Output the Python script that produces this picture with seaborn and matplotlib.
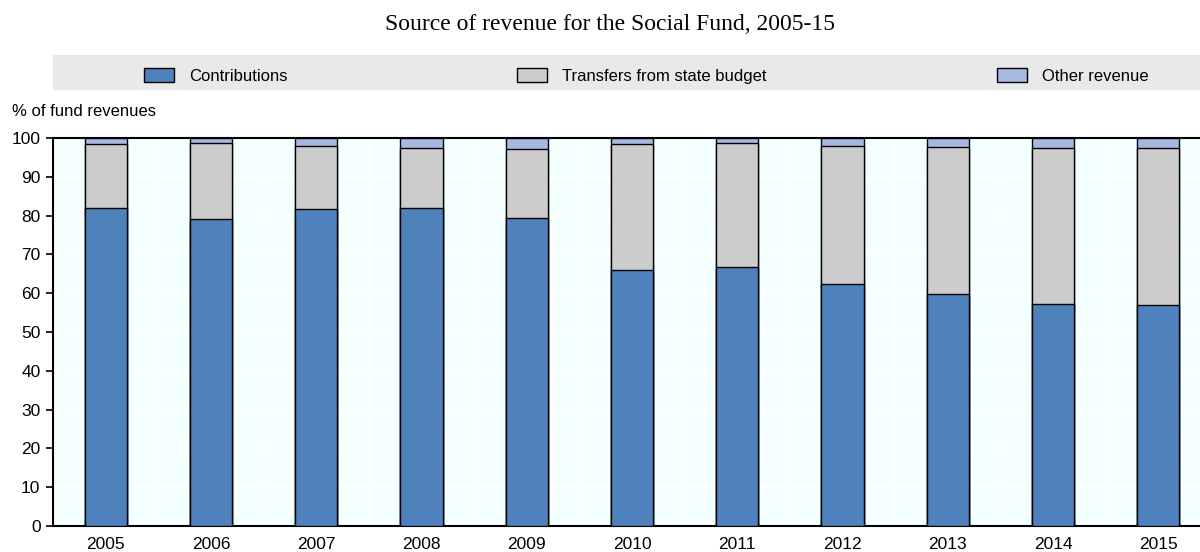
import numpy as np
import pandas as pd
import matplotlib
matplotlib.use("Agg")
import matplotlib.pyplot as plt
from matplotlib.patches import Patch, Rectangle
import seaborn as sns

years = ["2005", "2006", "2007", "2008", "2009", "2010", "2011", "2012", "2013", "2014", "2015"]
contributions = [81.9, 79.2, 81.7, 82.0, 79.4, 65.9, 66.8, 62.5, 59.7, 57.2, 56.9]
transfers = [16.6, 19.5, 16.2, 15.3, 17.7, 32.6, 31.8, 35.4, 38.0, 40.2, 40.5]
other = [round(100 - c - t, 1) for c, t in zip(contributions, transfers)]

series_names = ["Contributions", "Transfers from state budget", "Other revenue"]
colors = ["#4F81BD", "#CCCCCC", "#A7B9E3"]

sns.set_theme(style="white")
plt.rcParams["font.family"] = ["Liberation Sans Narrow", "Liberation Sans", "DejaVu Sans"]
plt.rcParams["text.color"] = "black"
plt.rcParams["xtick.color"] = "black"
plt.rcParams["ytick.color"] = "black"

df = pd.DataFrame({"year": years, "c": contributions, "t": transfers, "o": other})
df["top_t"] = df["c"] + df["t"]
df["top_o"] = df["top_t"] + df["o"]

fig = plt.figure(figsize=(12, 5.52), dpi=100)
ax = fig.add_axes([53 / 1200, 26 / 552, 1158 / 1200, 388 / 552])
ax.set_facecolor("#F4FFFF")

# stacked by overdrawing cumulative totals
for col, color in zip(["top_o", "top_t", "c"], colors[::-1]):
    sns.barplot(data=df, x="year", y=col, color=color, width=0.4,
                edgecolor="black", linewidth=1.0, saturation=1, ax=ax, zorder=3)

ax.set_xlim(-0.5, len(years) - 0.5)
ax.set_ylim(0, 100)
ax.set_yticks(range(0, 101, 10))
ax.set_xlabel("")
ax.set_ylabel("")

ax.set_xticks(np.arange(-0.5, len(years), 1), minor=True)
ax.tick_params(axis="x", which="major", length=0, labelsize=12.5, pad=8)
ax.tick_params(axis="x", which="minor", direction="in", length=5, width=1.2, color="black")
ax.tick_params(axis="y", which="major", direction="out", length=5, width=1.2,
               color="black", labelsize=12.5, left=True, pad=4)

ax.grid(False)
ax.grid(axis="y", which="major", color="white", linewidth=1.5, zorder=1)
ax.grid(axis="x", which="minor", color="white", linewidth=1.5, zorder=1)
ax.set_axisbelow(True)

for side in ["left", "bottom", "top"]:
    ax.spines[side].set_visible(True)
    ax.spines[side].set_color("black")
    ax.spines[side].set_linewidth(1.5)
ax.spines["right"].set_visible(False)

# legend band
fig.patches.append(Rectangle((53 / 1200, 1 - 90 / 552), 1147 / 1200, 35 / 552,
                             transform=fig.transFigure, facecolor="#E9E9E9",
                             edgecolor="none", zorder=0))
handles = [Patch(facecolor=c, edgecolor="black", linewidth=1.0) for c in colors]
fig.legend(handles, series_names, loc="center", bbox_to_anchor=(646 / 1200, 1 - 76 / 552),
           ncol=3, frameon=False, fontsize=12, handlelength=1.8, handleheight=0.85,
           handletextpad=0.9, columnspacing=13.8)

fig.text(12 / 1200, 1 - 112 / 552, "% of fund revenues", fontsize=12, ha="left", va="center")
fig.text(610 / 1200, 1 - 25 / 552, "Source of revenue for the Social Fund, 2005-15",
         fontsize=17, ha="center", va="center", family=["Liberation Serif", "DejaVu Serif"])

fig.savefig("out.png", dpi=100)
